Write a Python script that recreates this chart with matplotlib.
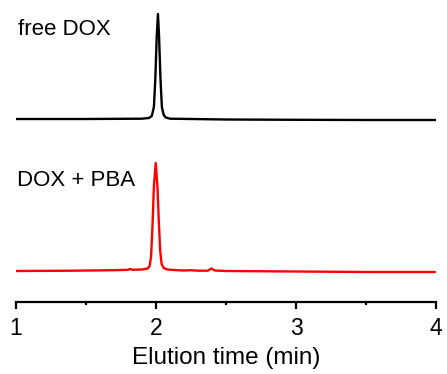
import matplotlib
matplotlib.use("Agg")
import matplotlib.pyplot as plt
from matplotlib.ticker import MultipleLocator

plt.rcParams['font.family'] = ['Liberation Sans', 'DejaVu Sans']

# free DOX trace (time in min, signal in a.u.)
free_t = [1.00, 1.50, 1.90, 1.95, 1.97, 1.985, 1.995, 2.005, 2.014, 2.022,
          2.032, 2.042, 2.055, 2.07, 2.10, 2.50, 3.00, 3.50, 4.00]
free_y = [0.0, 0.0, 0.3, 1.0, 3.0, 12.0, 40.0, 82.0, 105.0, 82.0,
          40.0, 12.0, 4.0, 1.5, 0.3, -0.5, -0.8, -1.0, -1.0]

# DOX + PBA trace
pba_t = [1.00, 1.40, 1.70, 1.80, 1.815, 1.83, 1.90, 1.94, 1.955, 1.965,
         1.975, 1.985, 1.998, 2.01, 2.02, 2.03, 2.04, 2.055, 2.08, 2.15,
         2.20, 2.25, 2.30, 2.37, 2.395, 2.42, 2.50, 3.00, 3.50, 3.99]
pba_y = [0.0, 0.3, 0.8, 1.2, 2.0, 1.2, 1.5, 2.5, 5.0, 15.0,
         45.0, 85.0, 108.0, 85.0, 50.0, 20.0, 7.0, 3.0, 1.5, 0.8,
         0.5, 0.8, 0.3, 0.3, 2.5, 0.5, 0.0, -0.5, -1.0, -1.0]

free_offset = 152
labels = ["free DOX", "DOX + PBA"]
xticks = [1, 2, 3, 4]

fig = plt.figure(figsize=(4.47, 3.74), dpi=100)
ax = fig.add_axes([16/447, 72/374, 420/447, 302/374])

ax.plot(free_t, [v + free_offset for v in free_y], color='black', lw=1.7)
ax.plot(pba_t, pba_y, color='#ff0000', lw=1.7)

ax.set_xlim(1, 4)
ax.set_ylim(-31, 271)
for s in ['top', 'left', 'right']:
    ax.spines[s].set_visible(False)
ax.spines['bottom'].set_linewidth(1.6)
ax.set_yticks([])
ax.set_xticks(xticks)
ax.set_xticklabels([str(v) for v in xticks])
ax.xaxis.set_minor_locator(MultipleLocator(0.5))
ax.tick_params(axis='x', which='major', direction='out', length=5, width=1.6,
               labelsize=16.5, pad=5.5)
ax.tick_params(axis='x', which='minor', direction='out', length=2.5, width=1.6)
ax.set_xlabel("Elution time (min)", fontsize=17.5, labelpad=5)

ax.text(1.014, 236, labels[0], fontsize=16, va='baseline', ha='left')
ax.text(1.008, 85, labels[1], fontsize=16, va='baseline', ha='left')

fig.savefig("out.png", dpi=100)
